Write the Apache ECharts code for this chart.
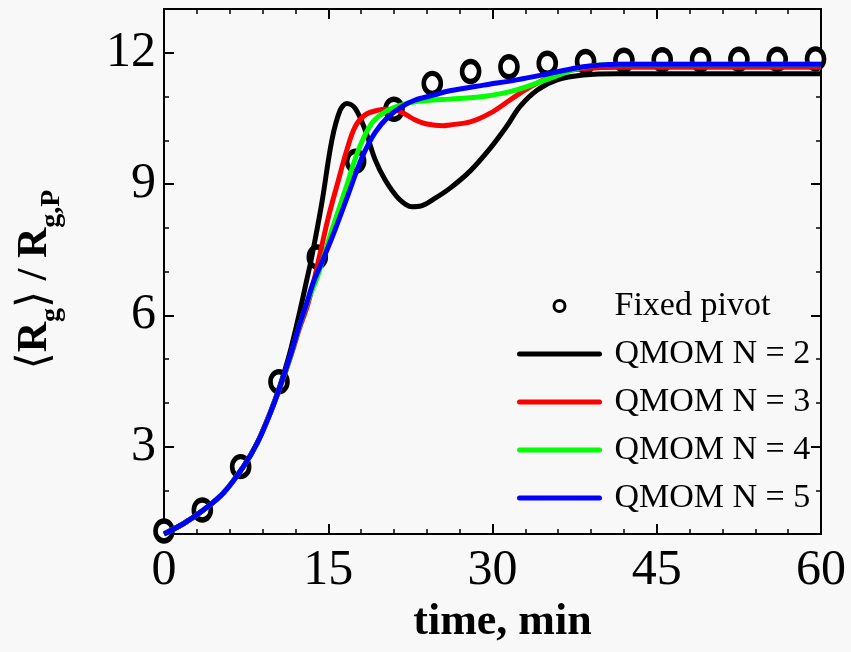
<!DOCTYPE html>
<html><head><meta charset="utf-8">
<script src="https://cdn.jsdelivr.net/npm/echarts@6/dist/echarts.min.js"></script>
<style>html,body{margin:0;padding:0;background:#f8f8f8}#c{width:851px;height:652px}</style>
</head><body><div id="c"></div>
<script>
// ---- data ----
const pivotT = [0, 3.5, 7, 10.5, 14, 17.5, 21, 24.5, 28, 31.5, 35, 38.5, 42, 45.5, 49, 52.5, 56, 59.5];
const pivotV = [1.07, 1.55, 2.54, 4.48, 7.33, 9.52, 10.71, 11.30, 11.57, 11.68, 11.76, 11.80, 11.83, 11.84, 11.84, 11.85, 11.85, 11.86];

const n2T = [0, 1.8, 3.6, 5.4, 7.25, 8.5, 9.7, 10.6, 11.5, 12.43, 13.04, 13.5, 14.41, 15.33, 16.09, 16.7, 17.46, 18.37, 19.29, 20.2, 21.42, 22.64, 23.5, 24.6, 26.1, 27.97, 29.8, 31.3, 32.5, 34.1, 35.9, 38.3, 41.4, 45, 50, 55, 60];
const n2V = [1.0, 1.24, 1.55, 1.93, 2.54, 3.08, 3.78, 4.4, 5.15, 6.12, 6.81, 7.34, 8.56, 10.0, 10.69, 10.84, 10.73, 10.23, 9.55, 9.09, 8.67, 8.48, 8.50, 8.65, 8.9, 9.3, 9.82, 10.32, 10.77, 11.15, 11.38, 11.49, 11.52, 11.52, 11.52, 11.52, 11.52];

const n3T = [0, 1.8, 3.6, 5.4, 7.25, 8.5, 9.7, 10.6, 11.5, 12.4, 13.1, 13.7, 14.26, 15.02, 15.93, 16.7, 17.46, 18.37, 19.59, 20.3, 21.0, 22.0, 22.9, 24.0, 25.5, 26.1, 27.97, 29.8, 31.6, 33.45, 35.3, 37.1, 39.85, 42, 50, 60];
const n3V = [1.0, 1.24, 1.55, 1.93, 2.54, 3.07, 3.76, 4.35, 5.0, 5.72, 6.22, 6.8, 7.42, 8.25, 9.09, 9.78, 10.31, 10.58, 10.69, 10.71, 10.70, 10.6, 10.47, 10.37, 10.33, 10.35, 10.42, 10.62, 10.92, 11.22, 11.45, 11.6, 11.66, 11.67, 11.67, 11.67];

const n4T = [0, 1.8, 3.6, 5.4, 7.25, 8.5, 9.7, 10.6, 11.5, 12.4, 13.1, 14.1, 15.33, 16.55, 17.76, 18.98, 20.2, 21.73, 22.94, 24.6, 26.1, 29.2, 32.2, 35.3, 37.7, 39.85, 42, 50, 60];
const n4V = [1.0, 1.24, 1.55, 1.93, 2.54, 3.07, 3.76, 4.37, 5.03, 5.78, 6.3, 6.95, 7.95, 8.86, 9.78, 10.39, 10.65, 10.81, 10.88, 10.92, 10.94, 11.0, 11.15, 11.42, 11.64, 11.72, 11.74, 11.74, 11.74];

const n5T = [0, 1.8, 3.6, 5.4, 7.25, 8.5, 9.7, 10.6, 11.5, 12.4, 13.0, 13.65, 14.7, 15.63, 16.85, 18.07, 19.29, 20.5, 21.73, 22.94, 24.6, 26.1, 29.2, 32.2, 35.3, 38.3, 41.4, 45, 50, 60];
const n5V = [1.0, 1.24, 1.55, 1.93, 2.54, 3.07, 3.76, 4.37, 5.05, 5.8, 6.25, 6.76, 7.38, 7.96, 8.78, 9.6, 10.18, 10.54, 10.77, 10.92, 11.03, 11.13, 11.26, 11.38, 11.53, 11.68, 11.74, 11.74, 11.74, 11.74];

const seriesNames = ['Fixed pivot', 'QMOM N = 2', 'QMOM N = 3', 'QMOM N = 4', 'QMOM N = 5'];
const yMajorTicks = [3, 6, 9, 12];
const yMinorTicks = [2, 4, 5, 7, 8, 10, 11];
const xMin = 0, xMax = 60, xInterval = 15;
const yMin = 1, yMax = 13;

// ---- chart ----
const zip = (a, b) => a.map((t, i) => [t, b[i]]);
const FONT = 'Liberation Serif, Times New Roman, DejaVu Serif, serif';
const BG = '#f8f8f8';
const LINE_COLORS = ['#000000', '#ff0000', '#00ff00', '#0000ff'];

const xBase = (pos, labels) => ({
  type: 'value', position: pos, min: xMin, max: xMax, interval: xInterval,
  axisLine: { show: true, onZero: false, lineStyle: { color: '#000', width: 2 } },
  axisTick: { show: true, inside: true, length: 10, lineStyle: { color: '#000', width: 2 } },
  minorTick: { show: true, splitNumber: 5, length: 5, lineStyle: { color: '#000', width: 1.5 } },
  splitLine: { show: false }, minorSplitLine: { show: false },
  axisLabel: labels ? { show: true, fontSize: 50, fontFamily: FONT, color: '#000', margin: 12 } : { show: false }
});
const yBase = (pos, ticks, len, showLine, labels) => ({
  type: 'value', position: pos, min: yMin, max: yMax,
  axisLine: { show: showLine, onZero: false, lineStyle: { color: '#000', width: 2 } },
  axisTick: { show: true, inside: true, length: len, customValues: ticks, lineStyle: { color: '#000', width: len > 6 ? 2 : 1.5 } },
  splitLine: { show: false },
  axisLabel: labels ? { show: true, customValues: ticks, fontSize: 50, fontFamily: FONT, color: '#000', margin: 8 } : { show: false }
});

const xBottom = xBase('bottom', true);
xBottom.name = 'time, min';
xBottom.nameLocation = 'middle';
xBottom.nameGap = 66;
xBottom.nameTextStyle = { fontSize: 44, fontWeight: 'bold', fontFamily: FONT, color: '#000', padding: [0, 0, 0, 20] };

const yLeft = yBase('left', yMajorTicks, 10, true, true);
yLeft.name = '{a|⟨}{m|R}{s|g}{a|⟩}{m| / R}{s|g,P}';
yLeft.nameLocation = 'middle';
yLeft.nameRotate = 90;
yLeft.nameGap = 106;
yLeft.nameTextStyle = {
  color: '#000', fontFamily: FONT, padding: [0, 16, 0, 0],
  rich: {
    a: { fontSize: 44, fontWeight: 'normal', fontFamily: 'DejaVu Serif, serif', color: '#000', lineHeight: 44, verticalAlign: 'top' },
    m: { fontSize: 42, fontWeight: 'bold', fontFamily: FONT, color: '#000', lineHeight: 44, verticalAlign: 'top' },
    s: { fontSize: 28, fontWeight: 'bold', fontFamily: FONT, color: '#000', lineHeight: 28, verticalAlign: 'top', padding: [24, 0, 0, 0] }
  }
};

const lineSeries = (name, t, v, color) => ({
  name, type: 'line', data: zip(t, v), xAxisIndex: 0, yAxisIndex: 0,
  symbol: 'none', showSymbol: false, smooth: 0.35, clip: true,
  lineStyle: { color, width: 5 }, itemStyle: { color }
});

const lineLegend = (name, color) => ({
  name, itemStyle: { opacity: 0 }, lineStyle: { color, width: 5, cap: 'round', opacity: 1 }
});

const option = {
  backgroundColor: BG,
  animation: false,
  grid: { left: 164, right: 30, top: 9, bottom: 118, containLabel: false, outerBoundsMode: 'none' },
  xAxis: [xBottom, xBase('top', false)],
  yAxis: [
    yLeft,
    yBase('left', yMinorTicks, 5, false, false),
    yBase('right', yMajorTicks, 10, true, false),
    yBase('right', yMinorTicks, 5, false, false)
  ],
  legend: {
    orient: 'vertical', left: 517, top: 282, padding: 0, itemGap: 0,
    itemWidth: 80, itemHeight: 11, selectedMode: false,
    textStyle: { fontSize: 34, fontFamily: FONT, color: '#000', lineHeight: 48, padding: [0, 0, 0, 10] },
    data: [
      { name: seriesNames[0], icon: 'circle', itemStyle: { color: '#fff', borderColor: '#000', borderWidth: 3, opacity: 1 } },
      lineLegend(seriesNames[1], LINE_COLORS[0]),
      lineLegend(seriesNames[2], LINE_COLORS[1]),
      lineLegend(seriesNames[3], LINE_COLORS[2]),
      lineLegend(seriesNames[4], LINE_COLORS[3])
    ]
  },
  series: [
    {
      name: seriesNames[0], type: 'scatter', data: zip(pivotT, pivotV), xAxisIndex: 0, yAxisIndex: 0,
      symbol: 'circle', symbolSize: [17, 20], clip: false, z: 1,
      itemStyle: { color: '#fff', borderColor: '#000', borderWidth: 5, opacity: 1 }
    },
    lineSeries(seriesNames[1], n2T, n2V, LINE_COLORS[0]),
    lineSeries(seriesNames[2], n3T, n3V, LINE_COLORS[1]),
    lineSeries(seriesNames[3], n4T, n4V, LINE_COLORS[2]),
    lineSeries(seriesNames[4], n5T, n5V, LINE_COLORS[3])
  ]
};
const chart = echarts.init(document.getElementById('c'), null, { renderer: 'canvas' });
chart.setOption(option);
</script></body></html>
